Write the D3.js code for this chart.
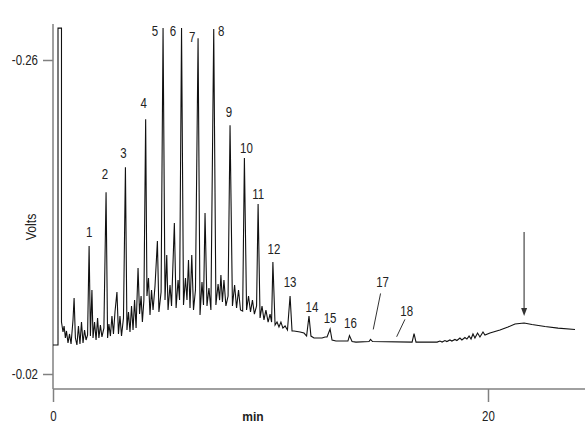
<!DOCTYPE html>
<html>
<head>
<meta charset="utf-8">
<script src="https://cdn.jsdelivr.net/npm/d3@7"></script>
<style>
  body { margin: 0; background: #fff; }
  text { font-family: "Liberation Sans", Arial, sans-serif; }
</style>
</head>
<body>
<div class="chromatogram"></div>
<script>
// retention time (min) and detector signal (V)
const times = [0, 0.23, 0.23, 0.39, 0.39, 0.46, 0.51, 0.57, 0.62, 0.69, 0.76, 0.83, 0.92, 0.97, 1.03, 1.10, 1.17, 1.24, 1.31, 1.38,
  1.45, 1.52, 1.59, 1.66, 1.72, 1.79, 1.84, 1.91, 1.98, 2.05, 2.11, 2.18, 2.25, 2.34, 2.44, 2.51, 2.57, 2.64, 2.71, 2.78,
  2.85, 2.94, 3.01, 3.08, 3.15, 3.24, 3.33, 3.40, 3.47, 3.54, 3.61, 3.68, 3.75, 3.82, 3.91, 3.98, 4.05, 4.11, 4.18, 4.26,
  4.32, 4.39, 4.46, 4.53, 4.60, 4.69, 4.80, 4.87, 4.97, 5.06, 5.15, 5.23, 5.29, 5.38, 5.45, 5.58, 5.66, 5.75, 5.82, 5.91,
  6.00, 6.09, 6.16, 6.23, 6.30, 6.38, 6.46, 6.55, 6.67, 6.76, 6.85, 6.92, 6.99, 7.08, 7.17, 7.26, 7.39, 7.49, 7.59, 7.66,
  7.72, 7.79, 7.86, 7.95, 8.05, 8.14, 8.25, 8.35, 8.44, 8.53, 8.62, 8.72, 8.80, 8.90, 8.99, 9.08, 9.17, 9.26, 9.36, 9.43,
  9.52, 9.61, 9.70, 9.79, 9.89, 9.98, 10.05, 10.11, 10.21, 10.30, 10.39, 10.48, 10.57, 10.67, 10.78, 10.90, 10.99, 11.08, 11.36, 11.54,
  11.66, 11.77, 11.86, 12.00, 12.37, 12.51, 12.60, 12.74, 12.83, 13.01, 13.56, 13.63, 13.75, 13.93, 14.53, 14.60, 14.69, 16.51, 16.60, 16.69,
  17.66, 17.79, 17.89, 18.02, 18.11, 18.25, 18.34, 18.48, 18.57, 18.71, 18.80, 18.94, 19.03, 19.13, 19.22, 19.31, 19.40, 19.52, 19.63, 19.77,
  19.86, 20.09, 20.55, 20.92, 21.24, 21.66, 22.02, 22.62, 23.22, 24.00]

const volts = [-0.0422, -0.0422, -0.2844, -0.2844, -0.0597, -0.0521, -0.0567, -0.0475, -0.0529, -0.0437, -0.0506, -0.0429, -0.0613, -0.0781, -0.0475, -0.0422, -0.0567, -0.0429, -0.0597, -0.0437,
  -0.0536, -0.0460, -0.0498, -0.1178, -0.0490, -0.0842, -0.0475, -0.0597, -0.0460, -0.0628, -0.0475, -0.0574, -0.0483, -0.0551, -0.1590, -0.0475, -0.0582, -0.0490, -0.0643, -0.0506,
  -0.0674, -0.0827, -0.0506, -0.0643, -0.0490, -0.0628, -0.1781, -0.0536, -0.0674, -0.0521, -0.0720, -0.0536, -0.0765, -0.0551, -0.1010, -0.0658, -0.0796, -0.0597, -0.0765, -0.2148,
  -0.0796, -0.0933, -0.0651, -0.0842, -0.0689, -0.0872, -0.1216, -0.0674, -0.0827, -0.2844, -0.0765, -0.1109, -0.0689, -0.0880, -0.0720, -0.1354, -0.0704, -0.0918, -0.0765, -0.2844,
  -0.0727, -0.0933, -0.0765, -0.1071, -0.0704, -0.1109, -0.0689, -0.0842, -0.2767, -0.0651, -0.0903, -0.0727, -0.1430, -0.0720, -0.0857, -0.0689, -0.2836, -0.0727, -0.0888, -0.0765,
  -0.0956, -0.0750, -0.0918, -0.0720, -0.0796, -0.2102, -0.0720, -0.0880, -0.0704, -0.0842, -0.0689, -0.0680, -0.1850, -0.0689, -0.0796, -0.0674, -0.0765, -0.0658, -0.0720, -0.1499,
  -0.0628, -0.0720, -0.0613, -0.0689, -0.0597, -0.0658, -0.0597, -0.1056, -0.0574, -0.0597, -0.0559, -0.0597, -0.0551, -0.0567, -0.0536, -0.0796, -0.0529, -0.0529, -0.0521, -0.0513,
  -0.0490, -0.0643, -0.0490, -0.0475, -0.0475, -0.0483, -0.0483, -0.0544, -0.0460, -0.0452, -0.0452, -0.0494, -0.0448, -0.0444, -0.0448, -0.0464, -0.0448, -0.0444, -0.0509, -0.0444,
  -0.0444, -0.0452, -0.0444, -0.0456, -0.0448, -0.0460, -0.0452, -0.0464, -0.0456, -0.0475, -0.0460, -0.0479, -0.0467, -0.0490, -0.0467, -0.0506, -0.0475, -0.0513, -0.0483, -0.0521,
  -0.0498, -0.0513, -0.0536, -0.0559, -0.0582, -0.0590, -0.0578, -0.0563, -0.0551, -0.0540]

// numbered peaks
const peakNumbers = ["1", "2", "3", "4", "5", "6", "7", "8", "9", "10", "11", "12", "13", "14", "15", "16", "17", "18"]
const peakTimes = [1.66, 2.44, 3.33, 4.26, 5.06, 5.91, 6.67, 7.39, 8.14, 8.80, 9.43, 10.11, 10.90, 11.77, 12.74, 13.63, 14.60, 15.80]
const peakVolts = [-0.1178, -0.1590, -0.1781, -0.2148, -0.2844, -0.2844, -0.2767, -0.2836, -0.2102, -0.1850, -0.1499, -0.1056, -0.0796, -0.0643, -0.0544, -0.0494, -0.0464, -0.0444]

const yTicks = [-0.26, -0.02]
const xTicks = [0, 20]

// the arrow over the late hump
const arrowTime = 21.66
const arrowVolts = -0.0590

// label placement relative to each peak apex [dx, dy], plus leader lines for 17 and 18
const labelOffsets = [[0, -9], [-1, -13], [-2, -9], [-2, -11], [-8, 8], [-8.5, 8], [-6, 3.5], [7.5, 7], [-1, -8],
  [2, -5], [0, -5], [1, -8.5], [0, -9.5], [3, -4], [0, -6], [1, -8], [12, -52.5], [10, -26]]
const leaders = {"17": [10, -46, 2.7, -10], "18": [8.3, -22.7, 0, -5.3]}

// no condensed face is installed, so squeeze the glyphs horizontally
const squeeze = 0.82

function narrow(selection) {
    selection.each(function() {
        const t = d3.select(this)
        const tx = +t.attr("x") || 0, ty = +t.attr("y") || 0
        const prev = t.attr("transform") || ""
        t.attr("x", 0).attr("y", 0)
            .attr("transform", "translate(" + tx + "," + ty + ") " + prev + " scale(" + squeeze + ",1)")
    })
}

function makeChromatogram() {
    const width = 585, height = 430
    const left = 53, axisY = 389, top = 24

    const svg = d3.select(".chromatogram")
        .append("svg")
            .attr("width", width)
            .attr("height", height)

    const x = d3.scaleLinear()
        .domain([0, 24.46])
        .range([left, width])

    const y = d3.scaleLinear()
        .domain([-0.02, -0.26])
        .range([374, 60])

    const axisColor = "#808080"

    // y axis
    svg.append("g")
        .attr("transform", "translate(" + left + ",0)")
        .call(d3.axisLeft(y).tickValues(yTicks).tickSize(10).tickPadding(5)
            .tickFormat(d => d.toFixed(2)))
        .call(g => g.select(".domain").remove())
        .call(g => g.selectAll("line").attr("stroke", axisColor).attr("stroke-width", 1.5))
        .call(g => g.selectAll("text")
            .attr("font-size", 14)
            .attr("fill", "#222")
            .style("font-family", "'Liberation Sans', Arial, sans-serif")
            .call(narrow))

    svg.append("line")
        .attr("x1", left).attr("x2", left)
        .attr("y1", top).attr("y2", axisY)
        .attr("stroke", axisColor)
        .attr("stroke-width", 1.5)

    // x axis
    svg.append("g")
        .attr("transform", "translate(0," + axisY + ")")
        .call(d3.axisBottom(x).tickValues(xTicks).tickSize(13).tickPadding(9))
        .call(g => g.select(".domain").remove())
        .call(g => g.selectAll("line").attr("stroke", axisColor).attr("stroke-width", 1.5))
        .call(g => g.selectAll("text")
            .attr("font-size", 14)
            .attr("fill", "#222")
            .style("font-family", "'Liberation Sans', Arial, sans-serif")
            .call(narrow))

    svg.append("line")
        .attr("x1", left).attr("x2", width)
        .attr("y1", axisY).attr("y2", axisY)
        .attr("stroke", axisColor)
        .attr("stroke-width", 1.5)

    // axis titles
    svg.append("text")
        .attr("transform", "translate(36,227) rotate(-90) scale(" + squeeze + ",1)")
        .attr("text-anchor", "middle")
        .attr("font-size", 15)
        .attr("fill", "#222")
        .text("Volts")

    svg.append("text")
        .attr("x", 253)
        .attr("y", 420.5)
        .attr("text-anchor", "middle")
        .attr("font-size", 12)
        .attr("font-weight", "bold")
        .attr("fill", "#222")
        .text("min")

    // the trace
    const trace = d3.line()
        .x(i => x(times[i]))
        .y(i => y(volts[i]))

    svg.append("path")
        .datum(d3.range(times.length))
        .attr("d", trace)
        .attr("fill", "none")
        .attr("stroke", "#111")
        .attr("stroke-width", 1.1)
        .attr("stroke-linejoin", "miter")

    // peak labels
    peakNumbers.forEach((label, i) => {
        const px = x(peakTimes[i]), py = y(peakVolts[i])
        const off = labelOffsets[i]
        svg.append("text")
            .attr("x", px + off[0])
            .attr("y", py + off[1])
            .attr("text-anchor", "middle")
            .attr("font-size", 14)
            .attr("fill", "#222")
            .text(label)
            .call(narrow)
        if (leaders[label]) {
            const l = leaders[label]
            svg.append("line")
                .attr("x1", px + l[0]).attr("y1", py + l[1])
                .attr("x2", px + l[2]).attr("y2", py + l[3])
                .attr("stroke", "#333")
                .attr("stroke-width", 1)
        }
    })

    // arrow
    const ax = x(arrowTime), tip = y(arrowVolts) - 7
    svg.append("line")
        .attr("x1", ax).attr("x2", ax)
        .attr("y1", tip - 84).attr("y2", tip - 6)
        .attr("stroke", "#555")
        .attr("stroke-width", 1.3)
    svg.append("path")
        .attr("d", "M" + (ax - 3) + "," + (tip - 8) + "L" + (ax + 3) + "," + (tip - 8) + "L" + ax + "," + tip + "Z")
        .attr("fill", "#333")
}

makeChromatogram()
</script>
</body>
</html>
